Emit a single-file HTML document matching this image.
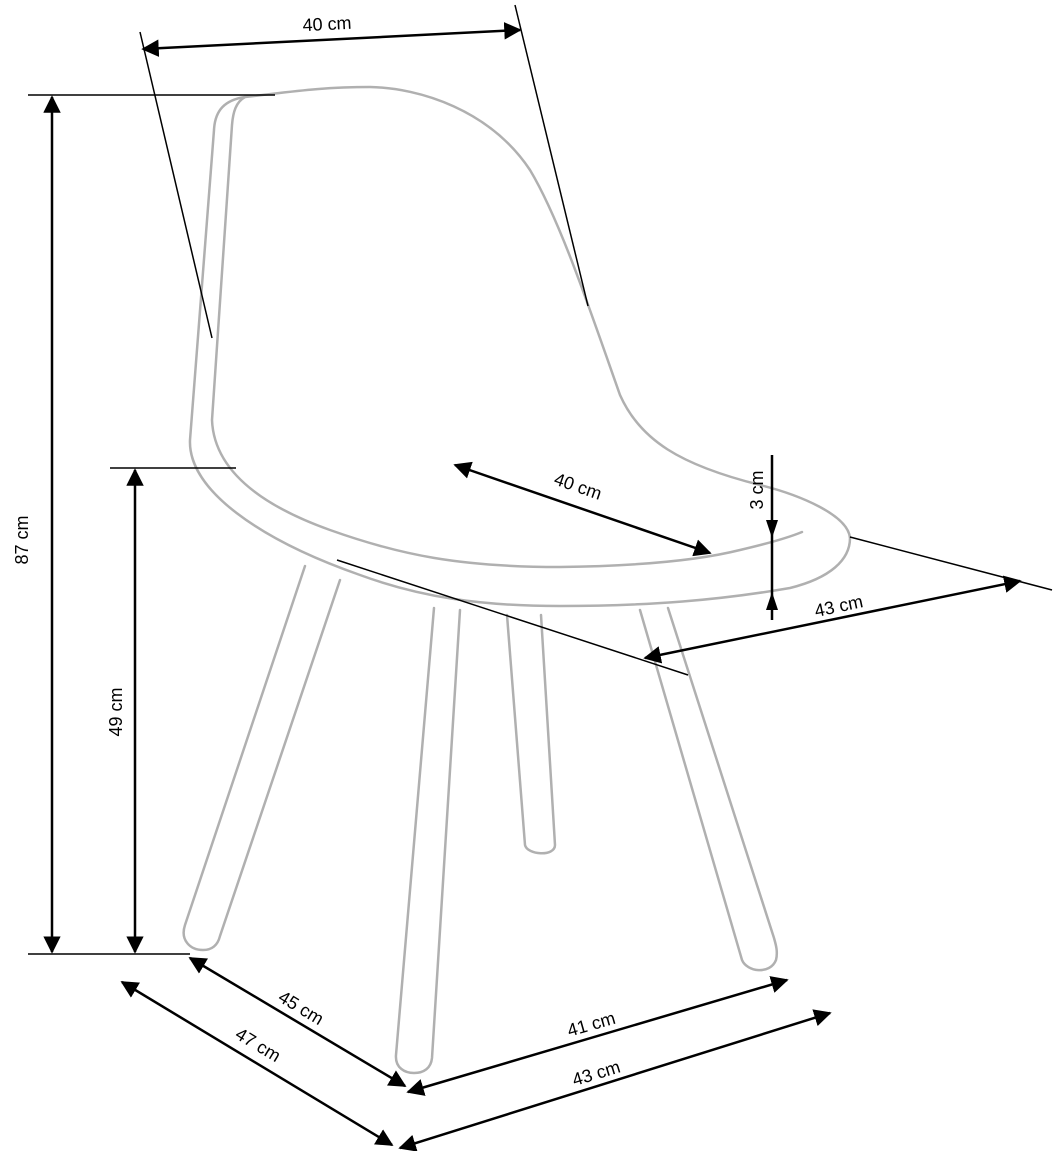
<!DOCTYPE html>
<html><head><meta charset="utf-8"><style>
html,body{margin:0;padding:0;background:#fff;}
svg{display:block;}
text{font-family:"Liberation Sans",sans-serif;font-size:18px;fill:#000;}
</style></head><body>
<svg width="1053" height="1151" viewBox="0 0 1053 1151" xmlns="http://www.w3.org/2000/svg">
<defs>
<marker id="a" viewBox="0 0 10 10" refX="9" refY="5" markerWidth="7" markerHeight="7" orient="auto-start-reverse"><path d="M0,0 L10,5 L0,10 z" fill="#000"/></marker>
</defs>
<g fill="none" stroke="#b0b0b0" stroke-width="2.5" stroke-linecap="round">
<path d="M245,97 C225,100 215,110 214,130 L190,440 C188,490 260,540 360,575 C420,597 480,606 560,606 C650,606 720,600 790,588 C830,578 850,560 850,538 C848,515 800,495 760,485 C680,465 640,440 620,395 C590,310 560,220 530,170 C490,110 420,88 370,87 C320,87 290,92 245,97 Z"/>
<path d="M245,97 C236,102 233,112 232,125 L212,420 C214,470 260,505 330,530 C400,555 460,567 560,567 C640,566 700,560 740,550 C770,543 790,537 802,532"/>
<path d="M305,566 L185,925 C180,940 190,950 203,950 C213,950 218,944 220,936 L340,580"/>
<path d="M434,608 L396,1055 C395,1068 405,1073 414,1073 C424,1073 431,1068 432,1058 L460,610"/>
<path d="M507,615 L525,845 C527,855 555,857 555,845 L541,615"/>
<path d="M640,610 L742,960 C747,972 770,975 776,960 C778,952 776,945 774,938 L668,608"/>
</g>
<g stroke="#000" stroke-width="1.5" fill="none">
<line x1="140" y1="32" x2="212" y2="338"/>
<line x1="515" y1="5" x2="588" y2="306"/>
<line x1="28" y1="95" x2="275" y2="95"/>
<line x1="28" y1="954" x2="190" y2="954"/>
<line x1="110" y1="468" x2="236" y2="468"/>
<line x1="850" y1="537" x2="1052" y2="590"/>
<line x1="337" y1="560" x2="688" y2="675"/>
</g>
<g stroke="#000" stroke-width="2.5" fill="none" marker-start="url(#a)" marker-end="url(#a)">
<line x1="143" y1="49" x2="520" y2="30"/>
<line x1="52" y1="97" x2="52" y2="952"/>
<line x1="135" y1="470" x2="135" y2="952"/>
<line x1="455" y1="465" x2="710" y2="553"/>
<line x1="645" y1="658" x2="1020" y2="581"/>
<line x1="190" y1="958" x2="405" y2="1086"/>
<line x1="122" y1="982" x2="392" y2="1145"/>
<line x1="408" y1="1092" x2="787" y2="980"/>
<line x1="400" y1="1148" x2="830" y2="1013"/>
</g>
<g stroke="#000" stroke-width="2.5" fill="none">
<line x1="772" y1="455" x2="772" y2="620"/>
</g>
<path d="M766,520 L778,520 L772,538 z" fill="#000"/>
<path d="M766,610 L778,610 L772,592 z" fill="#000"/>
<text x="327" y="30" text-anchor="middle" transform="rotate(-3 327 24)">40 cm</text>
<text transform="translate(28,540) rotate(-90)" text-anchor="middle">87 cm</text>
<text transform="translate(122,712) rotate(-90)" text-anchor="middle">49 cm</text>
<text transform="translate(576,492) rotate(19)" text-anchor="middle">40 cm</text>
<text transform="translate(763,490) rotate(-90)" text-anchor="middle">3 cm</text>
<text transform="translate(840,612) rotate(-12)" text-anchor="middle">43 cm</text>
<text transform="translate(298,1013) rotate(31)" text-anchor="middle">45 cm</text>
<text transform="translate(255,1050) rotate(31)" text-anchor="middle">47 cm</text>
<text transform="translate(593,1030) rotate(-16)" text-anchor="middle">41 cm</text>
<text transform="translate(598,1079) rotate(-17)" text-anchor="middle">43 cm</text>
</svg>
</body></html>
